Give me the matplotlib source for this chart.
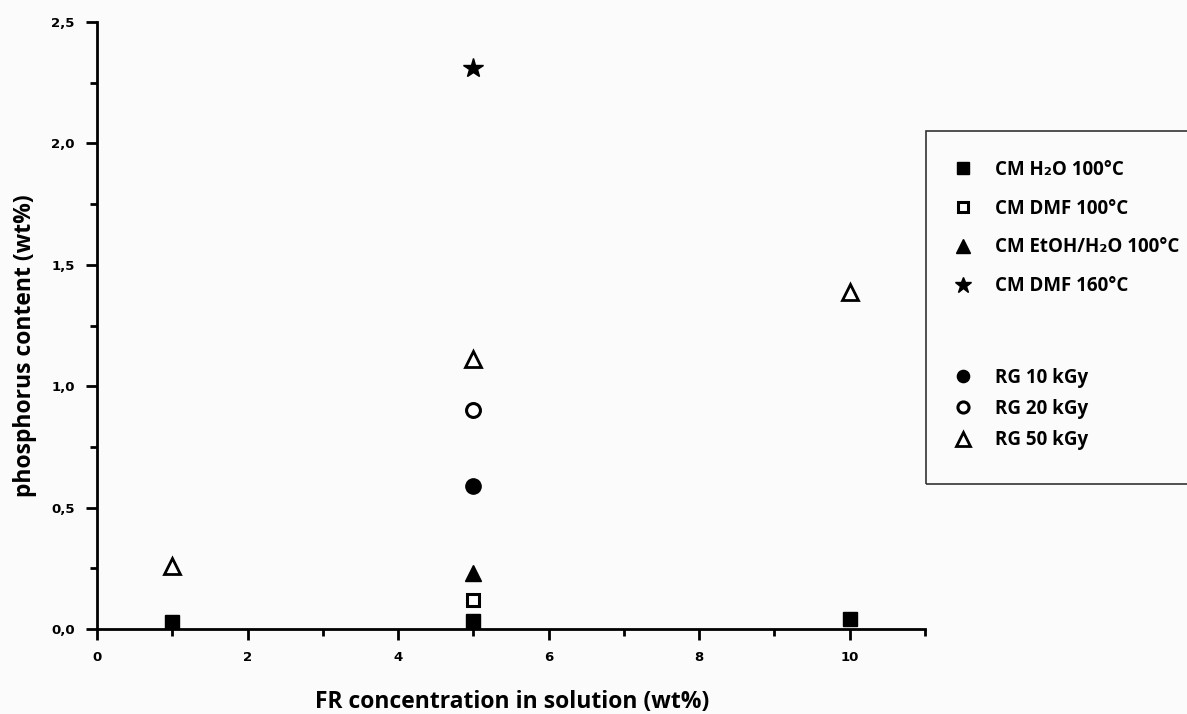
import matplotlib
matplotlib.use('Agg')
import matplotlib.pyplot as plt
from matplotlib.patches import Rectangle
from matplotlib.ticker import MultipleLocator, FuncFormatter

# data (x = FR concentration wt%, y = phosphorus wt%)
x_h2o = [1, 5, 10]
y_h2o = [0.03, 0.035, 0.04]
x_dmf100 = [5]
y_dmf100 = [0.12]
x_etoh = [5]
y_etoh = [0.23]
x_dmf160 = [5]
y_dmf160 = [2.31]
x_rg10 = [5]
y_rg10 = [0.59]
x_rg20 = [5]
y_rg20 = [0.90]
x_rg50 = [1, 5, 10]
y_rg50 = [0.26, 1.11, 1.39]

fams = ['Open Sans', 'DejaVu Sans']

fig = plt.figure(figsize=(11.87, 7.14), dpi=100)
fig.patch.set_facecolor('#fbfbfb')
ax = fig.add_axes([97/1187, 1-629/714, (925-97)/1187, (629-22)/714])
ax.set_facecolor('none')

k = 'black'
s_h2o, = ax.plot(x_h2o, y_h2o, 's', color=k, ms=10, ls='none', label='CM H\u2082O 100\u00b0C')
s_dmf100, = ax.plot(x_dmf100, y_dmf100, 's', mfc='white', mec=k, mew=2.2, ms=9, ls='none', label='CM DMF 100\u00b0C')
s_etoh, = ax.plot(x_etoh, y_etoh, '^', color=k, ms=12, ls='none', label='CM EtOH/H\u2082O 100\u00b0C')
s_dmf160, = ax.plot(x_dmf160, y_dmf160, '*', color=k, ms=15, ls='none', label='CM DMF 160\u00b0C')
s_rg10, = ax.plot(x_rg10, y_rg10, 'o', color=k, ms=11, ls='none', label='RG 10 kGy')
s_rg20, = ax.plot(x_rg20, y_rg20, 'o', mfc='white', mec=k, mew=2.2, ms=10, ls='none', label='RG 20 kGy')
s_rg50, = ax.plot(x_rg50, y_rg50, '^', mfc='white', mec=k, mew=2.0, ms=12, ls='none', label='RG 50 kGy')

ax.set_xlim(0, 11)
ax.set_ylim(0, 2.5)
for side in ['top', 'right']:
    ax.spines[side].set_visible(False)
for side in ['left', 'bottom']:
    ax.spines[side].set_linewidth(2)

ax.xaxis.set_major_locator(MultipleLocator(2))
ax.xaxis.set_minor_locator(MultipleLocator(1))
ax.yaxis.set_major_locator(MultipleLocator(0.5))
ax.yaxis.set_minor_locator(MultipleLocator(0.25))
ax.yaxis.set_major_formatter(FuncFormatter(lambda v, p: ('%.1f' % v).replace('.', ',')))
ax.xaxis.set_major_formatter(FuncFormatter(lambda v, p: '%d' % v))
ax.tick_params(which='major', direction='out', length=8, width=2, labelsize=9.5, pad=8)
ax.tick_params(which='minor', direction='out', length=5, width=2)
for lab in ax.get_xticklabels() + ax.get_yticklabels():
    lab.set_fontweight('bold')

ax.set_xlabel('FR concentration in solution (wt%)', fontsize=16.5, fontweight='bold', family=fams)
ax.set_ylabel('phosphorus content (wt%)', fontsize=16.5, fontweight='bold', family=fams)
ax.xaxis.set_label_coords((512 - 97) / 828, (629 - 702) / 607)
ax.xaxis.label.set_va('center')
ax.yaxis.set_label_coords((25 - 97) / 828, (629 - 346) / 607)
ax.yaxis.label.set_va('center')

# legend frame, runs off the right edge like the original
fig.patches.append(Rectangle((926/1187, 1-484/714), 0.3, (484-131)/714,
                             transform=fig.transFigure, fill=False,
                             edgecolor='#333333', lw=1.2))

lp = dict(family=fams, weight='bold', size=13.5)
leg1 = fig.legend(handles=[s_h2o, s_dmf100, s_etoh, s_dmf160], loc='center left',
                  bbox_to_anchor=(955/1187, 1-228/714), frameon=False, prop=lp,
                  handlelength=0.9, handletextpad=1.25, labelspacing=1.0,
                  borderpad=0, borderaxespad=0, numpoints=1)
leg2 = fig.legend(handles=[s_rg10, s_rg20, s_rg50], loc='center left',
                  bbox_to_anchor=(955/1187, 1-409/714), frameon=False, prop=lp,
                  handlelength=0.9, handletextpad=1.25, labelspacing=0.6,
                  borderpad=0, borderaxespad=0, numpoints=1)
for h in leg1.legend_handles + leg2.legend_handles:
    h.set_markersize(h.get_markersize() * 0.8)

fig.savefig('out.png', dpi=100, facecolor=fig.get_facecolor())
